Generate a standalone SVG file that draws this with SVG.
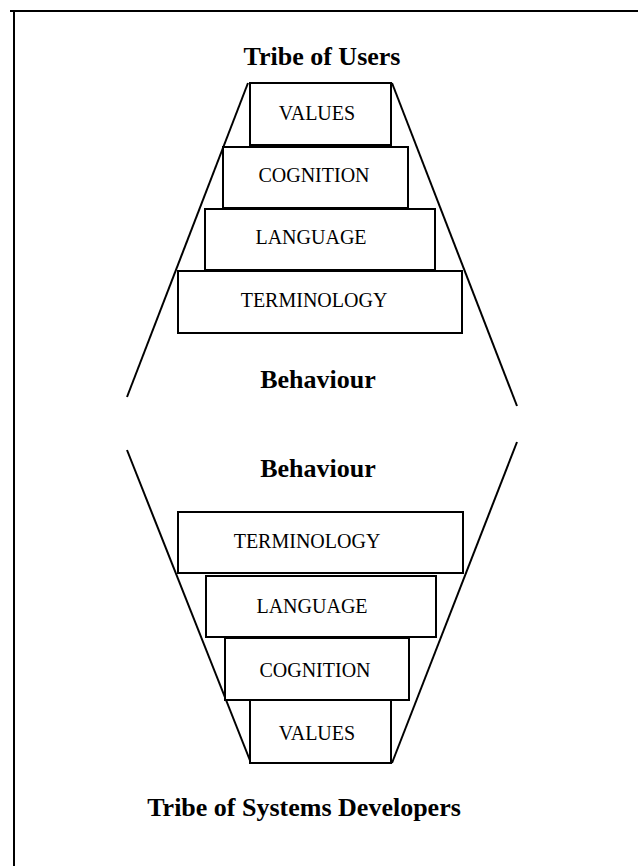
<svg xmlns="http://www.w3.org/2000/svg" width="638" height="866" viewBox="0 0 638 866">
<style>
.box{fill:#fff;stroke:#000;stroke-width:2}
.lbl{font-family:"Liberation Serif","Times New Roman",serif;font-size:20px;fill:#000;text-anchor:middle}
.ttl{font-family:"Liberation Serif","Times New Roman",serif;font-size:26px;font-weight:bold;fill:#000;text-anchor:middle}
.ln{stroke:#000;stroke-width:2;fill:none}
</style>
<rect width="638" height="866" fill="#fff"/>
<g id="frame">
<line class="ln" x1="10" y1="11" x2="638" y2="11"/>
<line class="ln" x1="14" y1="10" x2="14" y2="866"/>
</g>
<g id="connectors">
<line class="ln" x1="248" y1="83" x2="127" y2="397"/>
<line class="ln" x1="392" y1="83" x2="517" y2="406"/>
<line class="ln" x1="127" y1="450" x2="251" y2="763"/>
<line class="ln" x1="517" y1="442" x2="392" y2="763"/>
</g>
<g id="title-users"><text class="ttl" x="322" y="65">Tribe of Users</text></g>
<g id="u-values"><rect class="box" x="250" y="83" width="141" height="62"/><text class="lbl" x="317" y="120">VALUES</text></g>
<g id="u-cognition"><rect class="box" x="223" y="147" width="185" height="61"/><text class="lbl" x="314" y="182">COGNITION</text></g>
<g id="u-language"><rect class="box" x="205" y="209" width="230" height="61"/><text class="lbl" x="311" y="244">LANGUAGE</text></g>
<g id="u-terminology"><rect class="box" x="178" y="271" width="284" height="62"/><text class="lbl" x="314" y="307">TERMINOLOGY</text></g>
<g id="behaviour-1"><text class="ttl" x="318" y="388">Behaviour</text></g>
<g id="behaviour-2"><text class="ttl" x="318" y="477">Behaviour</text></g>
<g id="d-terminology"><rect class="box" x="178" y="512" width="285" height="61"/><text class="lbl" x="307" y="548">TERMINOLOGY</text></g>
<g id="d-language"><rect class="box" x="206" y="576" width="230" height="61"/><text class="lbl" x="312" y="613">LANGUAGE</text></g>
<g id="d-cognition"><rect class="box" x="225" y="638" width="184" height="62"/><text class="lbl" x="315" y="677">COGNITION</text></g>
<g id="d-values"><rect class="box" x="250" y="700" width="141" height="63"/><text class="lbl" x="317" y="740">VALUES</text></g>
<g id="title-developers"><text class="ttl" x="304" y="816">Tribe of Systems Developers</text></g>
</svg>
